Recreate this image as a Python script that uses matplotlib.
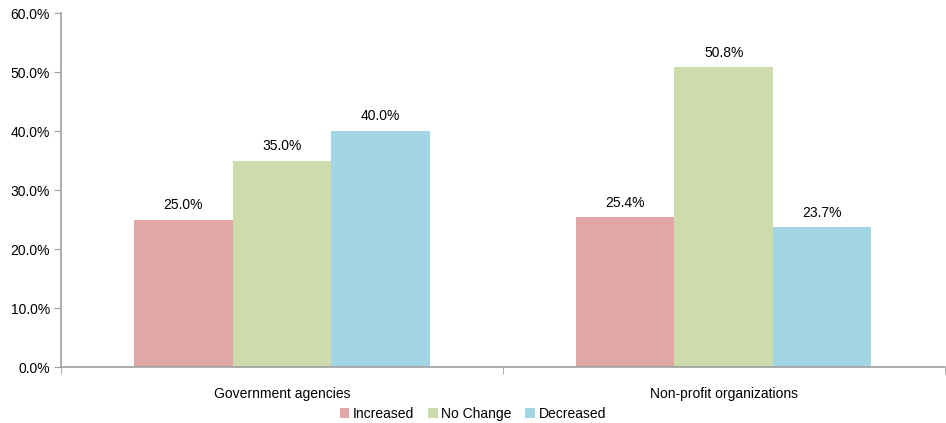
import matplotlib.pyplot as plt
import matplotlib.ticker as ticker
import numpy as np

plt.rcParams['font.family'] = ['Liberation Sans', 'DejaVu Sans']
plt.rcParams['font.size'] = 10

categories = ['Government agencies', 'Non-profit organizations']
series = ['Increased', 'No Change', 'Decreased']
increased = [25.0, 25.4]
no_change = [35.0, 50.8]
decreased = [40.0, 23.7]
colors = ['#E0A7A6', '#CEDBAA', '#A3D6E4']

fig = plt.figure(figsize=(9.46, 4.23), dpi=100)
ax = fig.add_axes([0.0645, 0.132, 0.934, 0.837])

x = np.arange(len(categories))
width = 0.223
for i, (name, vals) in enumerate(zip(series, [increased, no_change, decreased])):
    pos = x + (i - 1) * width
    bars = ax.bar(pos, vals, width, color=colors[i], label=name, edgecolor='none')
    for xp, v in zip(pos, vals):
        ax.text(xp, v + 1.3, f'{v:.1f}%', ha='center', va='bottom', fontsize=10)

ax.set_xlim(-0.5, 1.5)
ax.set_ylim(0, 60)
ax.set_yticks(np.arange(0, 61, 10))
ax.yaxis.set_major_formatter(ticker.FuncFormatter(lambda v, p: f'{v:.1f}%'))
ax.set_xticks(x)
ax.set_xticklabels(categories)
ax.set_xticks([-0.5, 0.5, 1.5], minor=True)
ax.tick_params(axis='x', which='major', length=0, pad=14)
ax.tick_params(axis='x', which='minor', length=5, color='#A0A0A0')
ax.tick_params(axis='y', length=5, color='#A0A0A0', pad=3)

for s in ['top', 'right']:
    ax.spines[s].set_visible(False)
for s in ['left', 'bottom']:
    ax.spines[s].set_color('#A0A0A0')
    ax.spines[s].set_linewidth(1.2)

ax.legend(loc='center', bbox_to_anchor=(0.466, -0.132), ncol=3, frameon=False,
          handlelength=0.7, handleheight=0.7, handletextpad=0.25, columnspacing=1.0,
          fontsize=10, borderpad=0)

fig.savefig('out.png', dpi=100)
